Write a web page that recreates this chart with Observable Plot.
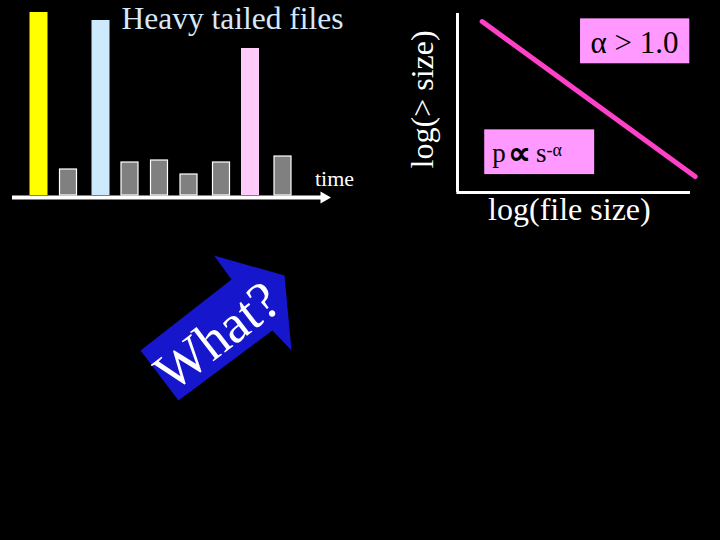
<!DOCTYPE html>
<html><head><meta charset="utf-8">
<script src="https://cdn.jsdelivr.net/npm/d3@7"></script>
<script src="https://cdn.jsdelivr.net/npm/@observablehq/plot@0.6"></script>
<style>
html,body{margin:0;padding:0;background:#000;}
#slide{position:relative;width:720px;height:540px;background:#000;overflow:hidden;}
#slide > svg{position:absolute;margin:0;overflow:visible;}
</style></head><body><div id="slide"></div>
<script>
// ---- Left panel: files arriving over time ----
const fileTimes  = [38.5, 68, 100.5, 129.5, 159, 188.5, 221, 250, 282.5];
const fileSizes  = [183, 26, 175, 33, 35, 21, 33, 147, 39];
const fileKinds  = ["big", "small", "big", "small", "small", "small", "small", "big", "small"];
const bigColors  = ["#ffff00", "#cdeafd", "#ffcbf9"];
const leftTitle  = "Heavy tailed files";
const timeLabel  = "time";

// ---- Right panel: log-log tail distribution ----
const logFileSize = [1.02, 10.2];
const logTail     = [9.55, 0.89];
const xLabel = "log(file size)";
const yLabel = "log(> size)";
const alphaNote = "α > 1.0";
const lawParts = ["p", "∝", "s", "-α"];

// ---- Arrow annotation ----
const arrowText = "What?";
const arrowX = [140, 231, 213.5, 284, 291, 272, 178];
const arrowY = [350, 279, 255, 275, 350, 330, 400];

const serif = "'Liberation Serif','Times New Roman',serif";
const slide = document.getElementById("slide");

const files = fileTimes.map((t, i) => ({t, size: fileSizes[i], kind: fileKinds[i]}));
let bi = 0;
files.forEach(d => { d.color = d.kind === "big" ? bigColors[bi++] : "#808080"; });

function place(svg, left, top) {
  svg.style.left = left + "px";
  svg.style.top = top + "px";
  slide.appendChild(svg);
}

// Arrow layer (whole slide, y downward)
const arrowPts = arrowX.map((x, i) => ({x, y: arrowY[i]}));
place(Plot.plot({
  width: 720, height: 540, margin: 0,
  x: {domain: [0, 720], axis: null},
  y: {domain: [540, 0], axis: null},
  style: {background: "transparent", fontFamily: serif},
  marks: [
    Plot.line(arrowPts, {x: "x", y: "y", curve: "linear-closed", fill: "#1616cc", stroke: "none"}),
    Plot.text([arrowText], {x: 217, y: 336, rotate: -37.5, fontSize: 54, fill: "white", textAnchor: "middle"})
  ]
}), 0, 0);

// Left bar panel
place(Plot.plot({
  width: 360, height: 220, margin: 0, marginBottom: 25,
  x: {domain: [0, 360], axis: null},
  y: {domain: [0, 195], axis: null},
  color: {type: "identity"},
  style: {background: "transparent", fontFamily: serif},
  marks: [
    Plot.rectY(files.filter(d => d.kind === "big"), {x1: d => d.t - 9, x2: d => d.t + 9, y: "size", fill: "color"}),
    Plot.rectY(files.filter(d => d.kind === "small"), {x1: d => d.t - 8.5, x2: d => d.t + 8.5, y: "size", fill: "color", stroke: "white", strokeWidth: 1.2}),
    Plot.ruleY([0], {x1: 12, x2: 324, dy: 2, stroke: "white", strokeWidth: 4}),
    Plot.dot([0], {x: 323.5, y: 0, dy: 2, symbol: "triangle", r: 4.5, rotate: 90, fill: "white", stroke: "none"}),
    Plot.text([leftTitle], {x: 232, y: 176.3, fontSize: 31.5, fill: "#d6e9fa", textAnchor: "middle"}),
    Plot.text([timeLabel], {x: 334, y: 17, fontSize: 22, fill: "white", textAnchor: "middle"})
  ]
}), 0, 0);

// Right log-log panel
const law = logFileSize.map((x, i) => ({x, y: logTail[i]}));
place(Plot.plot({
  width: 360, height: 240,
  marginLeft: 98, marginRight: 30, marginTop: 13, marginBottom: 48,
  x: {domain: [0, 10], axis: null},
  y: {domain: [0, 10], axis: null},
  style: {background: "transparent", fontFamily: serif},
  marks: [
    Plot.ruleX([0], {y1: 0, y2: 10, stroke: "white", strokeWidth: 3, dx: -1}),
    Plot.ruleY([0], {x1: -0.07, x2: 10, stroke: "white", strokeWidth: 3}),
    Plot.line(law, {x: "x", y: "y", stroke: "#ff40c8", strokeWidth: 5}),
    Plot.rect([0], {x1: 5.26, x2: 9.97, y1: 7.19, y2: 9.7, fill: "#ff99ff"}),
    Plot.rect([0], {x1: 1.13, x2: 5.87, y1: 1.0, y2: 3.5, fill: "#ff99ff"}),
    Plot.text([alphaNote], {x: 7.59, y: 8.32, fontSize: 31, fill: "black", textAnchor: "middle"}),
    Plot.text([lawParts[0]], {x: 1.45, y: 2.17, fontSize: 27, fill: "black", textAnchor: "start"}),
    Plot.text([lawParts[1]], {x: 2.15, y: 2.17, fontSize: 32, fontWeight: "bold", fill: "black", textAnchor: "start"}),
    Plot.text([lawParts[2]], {x: 3.34, y: 2.17, fontSize: 27, fill: "black", textAnchor: "start"}),
    Plot.text([lawParts[3]], {x: 3.79, y: 2.35, fontSize: 18, fill: "black", textAnchor: "start"}),
    Plot.text([xLabel], {x: 4.78, y: -0.99, fontSize: 32, fill: "white", textAnchor: "middle"}),
    Plot.text([yLabel], {x: -1.56, y: 5.2, fontSize: 32, fill: "white", textAnchor: "middle", rotate: -90})
  ]
}), 360, 0);
</script>
</body></html>
